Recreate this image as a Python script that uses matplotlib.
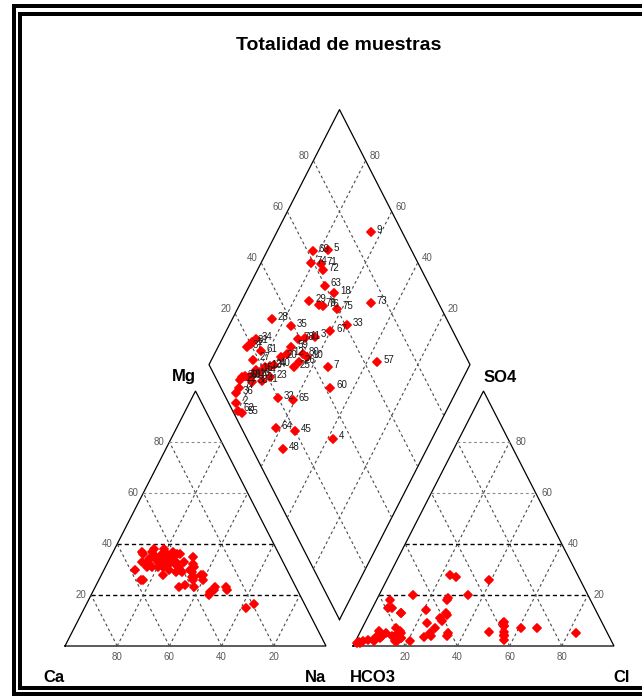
import numpy as np
import matplotlib
matplotlib.use("Agg")
import matplotlib.pyplot as plt
from matplotlib.lines import Line2D
from matplotlib.markers import MarkerStyle

# ---------------- data (percent of meq) ----------------
samples = ['9', '69', '5', '74', '71', '72', '63', '18', '29', '70', '76', '75', '73', '28', '35',
           '33', '67', '3', '78', '11', '31', '34', '1', '61', '27', '59', '12', '80', '26', '20',
           '25', '10', '7', '60', '57', '24', '40', '13', '14', '15', '16', '17', '19', '22', '41',
           '23', '77', '36', '2', '62', '55', '32', '65', '64', '45', '4', '48', '37', '38', '39']
ca = [38, 47.5, 40, 43, 44, 39, 41, 42, 38, 40.5, 45, 34, 27, 48, 44,
      35, 34, 38, 38, 33.5, 52, 54, 58, 57, 49, 41, 43, 37, 35, 42,
      35, 37, 31, 27, 19.5, 48.5, 45, 44, 43, 48, 45, 48, 53, 51, 41.5,
      41, 52, 58, 51, 46, 47, 37, 33, 39, 32, 23, 34, 52, 49, 47]
mg = [26, 35, 37, 38, 33, 36, 30, 24, 36, 29, 23, 28, 23, 37, 32,
      20, 26, 27, 33, 35, 36, 33, 30, 26, 35, 31, 29, 29, 31, 32,
      32, 27, 23, 22, 16.5, 28, 30, 34, 36, 33, 36, 34, 31, 34, 35,
      33, 32, 26, 31, 34, 31, 30, 28, 23, 22, 15, 21, 37, 31, 38]
na = [36, 17.5, 23, 19, 23, 25, 29, 34, 26, 30.5, 32, 38, 50, 15, 24,
      45, 40, 35, 29, 31.5, 12, 13, 12, 17, 16, 28, 28, 34, 34, 26,
      33, 36, 46, 51, 64, 23.5, 25, 22, 21, 19, 19, 18, 16, 15, 23.5,
      26, 16, 16, 18, 20, 22, 33, 39, 38, 46, 62, 45, 11, 20, 15]
hco3 = [12, 38, 32, 41, 37.5, 38, 40, 38, 49, 46, 45, 40, 26, 67, 61,
        39.5, 47, 54, 61, 58, 79, 77, 80, 77.5, 82, 65, 68, 62, 65, 71,
        68, 61, 55, 58, 35, 77, 75, 79, 82, 83, 85, 87, 88.5, 91, 83,
        79, 93, 95, 97, 98, 97, 80, 75, 87, 80, 67, 88, 82, 87, 90]
so4 = [5, 8, 7, 2.5, 9.5, 8, 4, 9, 28, 20, 5.5, 4.5, 7, 20, 5,
       5.5, 27, 19, 11, 13, 5, 2, 7, 15, 2, 14, 4, 4, 7, 3.5,
       5, 10, 18, 12, 26, 18, 13, 6, 3, 4, 5, 5, 4, 2, 2,
       15, 2.5, 2, 1.5, 1, 1, 3, 13, 6, 3, 9, 3, 4, 4, 3]
cl = [83, 54, 61, 56.5, 53, 54, 56, 53, 23, 34, 49.5, 55.5, 67, 13, 34,
      55, 26, 27, 28, 29, 16, 21, 13, 7.5, 16, 21, 28, 34, 28, 25.5,
      27, 29, 27, 30, 39, 5, 12, 15, 15, 13, 10, 8, 7.5, 7, 15,
      6, 4.5, 3, 1.5, 1, 2, 17, 12, 7, 17, 24, 9, 14, 9, 7]

grid_ticks = [20, 40, 60, 80]
title = "Totalidad de muestras"

# ---------------- geometry ----------------
H = np.sqrt(3) / 2
G = 27.0 / 261.0          # gap between triangles (side units)
PX = 261.0                # pixels per side unit (x)
PY = 255.0 / H            # pixels per unit (y)
W, HH = 642, 697

fig = plt.figure(figsize=(W / 100, HH / 100), dpi=100)
ax = fig.add_axes([0, 0, 1, 1])
x0 = -65.0 / PX
y0 = -(HH - 646.0) / PY
ax.set_xlim(x0, x0 + W / PX)
ax.set_ylim(y0, y0 + HH / PY)
ax.axis('off')

FONT = 'Liberation Sans'


def pix(px, py):
    return x0 + px / PX, y0 + (HH - py) / PY


def dxp(p):
    return p / PX


def dyp(p):
    return p / PY


def cat_xy(c, m, n):
    t = np.array(c) + np.array(m) + np.array(n)
    return np.array(n) / t + 0.5 * np.array(m) / t, H * np.array(m) / t


def an_xy(h, s, c):
    t = np.array(h) + np.array(s) + np.array(c)
    return 1 + G + np.array(c) / t + 0.5 * np.array(s) / t, H * np.array(s) / t


Bx, By = 1 + G / 2, G * H


def dia_xy(n_frac, h_frac):
    return Bx + 0.5 * (n_frac - h_frac), By + H * (2 - n_frac - h_frac)


dark = dict(color='black', lw=1.0, ls=(0, (3, 2.2)))
light = dict(color='#8a8a8a', lw=0.8, ls=(0, (2.5, 2.5)))
diag = dict(color='#4a4a4a', lw=0.8, ls=(0, (2.5, 2.5)))
tick_kw = dict(fontsize=7, color='#5a5a5a', family=FONT)


def triangle(ox, left_labels):
    ax.plot([ox, ox + 1, ox + 0.5, ox], [0, 0, H, 0], color='black', lw=0.9,
            solid_joinstyle='miter')
    for t in grid_ticks:
        k = t / 100
        ax.plot([ox + k / 2, ox + 1 - k / 2], [k * H, k * H], **(dark if t <= 40 else light))
        ax.plot([ox + k, ox + k + (1 - k) / 2], [0, (1 - k) * H], **diag)
        ax.plot([ox + 1 - k, ox + (1 - k) / 2], [0, (1 - k) * H], **diag)
        if left_labels:
            ax.text(ox + k / 2 - dxp(10), k * H, str(t), ha='center', va='center', **tick_kw)
            ax.text(ox + k, -dyp(11), str(100 - t), ha='center', va='center', **tick_kw)
        else:
            ax.text(ox + 1 - k / 2 + dxp(11), k * H, str(t), ha='center', va='center', **tick_kw)
            ax.text(ox + k, -dyp(11), str(t), ha='center', va='center', **tick_kw)


triangle(0.0, True)
triangle(1 + G, False)

# diamond
ux, uy = -0.5, H
vx, vy = 0.5, H
dx = [Bx, Bx + ux, Bx + ux + vx, Bx + vx, Bx]
dy = [By, By + uy, By + uy + vy, By + vy, By]
ax.plot(dx, dy, color='black', lw=0.9)
for t in grid_ticks:
    k = t / 100
    ax.plot([Bx + (1 - k) * ux, Bx + (1 - k) * ux + vx], [By + (1 - k) * uy, By + (1 - k) * uy + vy], **diag)
    ax.plot([Bx + (1 - k) * vx, Bx + (1 - k) * vx + ux], [By + (1 - k) * vy, By + (1 - k) * vy + uy], **diag)
    px_, py_ = Bx + ux + (1 - k) * vx, By + uy + (1 - k) * vy
    ax.text(px_ - dxp(9), py_ + dyp(5), str(100 - t), ha='center', va='center', **tick_kw)
    px_, py_ = Bx + (1 - k) * ux + vx, By + (1 - k) * uy + vy
    ax.text(px_ + dxp(9), py_ + dyp(5), str(100 - t), ha='center', va='center', **tick_kw)

# points
mk = dict(marker=MarkerStyle('D', joinstyle='round'), ms=4.3, color='#ff0000', ls='none',
          mec='#ff0000', mew=1.3)
cx, cy = cat_xy(ca, mg, na)
ax.plot(cx, cy, **mk)
axx, ayy = an_xy(hco3, so4, cl)
ax.plot(axx, ayy, **mk)
nf = np.array(na) / (np.array(ca) + np.array(mg) + np.array(na))
hf = np.array(hco3) / (np.array(hco3) + np.array(so4) + np.array(cl))
qx, qy = dia_xy(nf, hf)
ax.plot(qx, qy, **mk)
for s, xx, yy in zip(samples, qx, qy):
    ax.annotate(s, (xx, yy), xytext=(4.2, 1.5), textcoords='offset points',
                ha='left', va='center', fontsize=7, color='#1a1a1a', family=FONT)

# corner labels
lab_kw = dict(fontsize=12, fontweight='bold', family=FONT, ha='center', va='center', color='black')
for txt, (px_, py_) in [('Ca', (54, 678)), ('Na', (315, 678)), ('Mg', (184, 377)),
                        ('HCO3', (373, 677)), ('Cl', (622, 677)), ('SO4', (500, 377))]:
    ax.text(*pix(px_, py_), txt, **lab_kw)

ax.text(*pix(339, 46), title, fontsize=14, fontweight='bold', family=FONT,
        ha='center', va='center', color='black')

# double frame
lw_f = 4 * 72 / 100


def fl(xs, ys):
    fig.add_artist(Line2D([x / W for x in xs], [1 - y / HH for y in ys],
                          transform=fig.transFigure, color='black', lw=lw_f,
                          solid_capstyle='butt', solid_joinstyle='miter'))


fl([650, 14, 14, 650], [6, 6, 694, 694])
fl([650, 20.5, 20.5, 650], [14, 14, 688, 688])

fig.savefig('out.png', dpi=100)
